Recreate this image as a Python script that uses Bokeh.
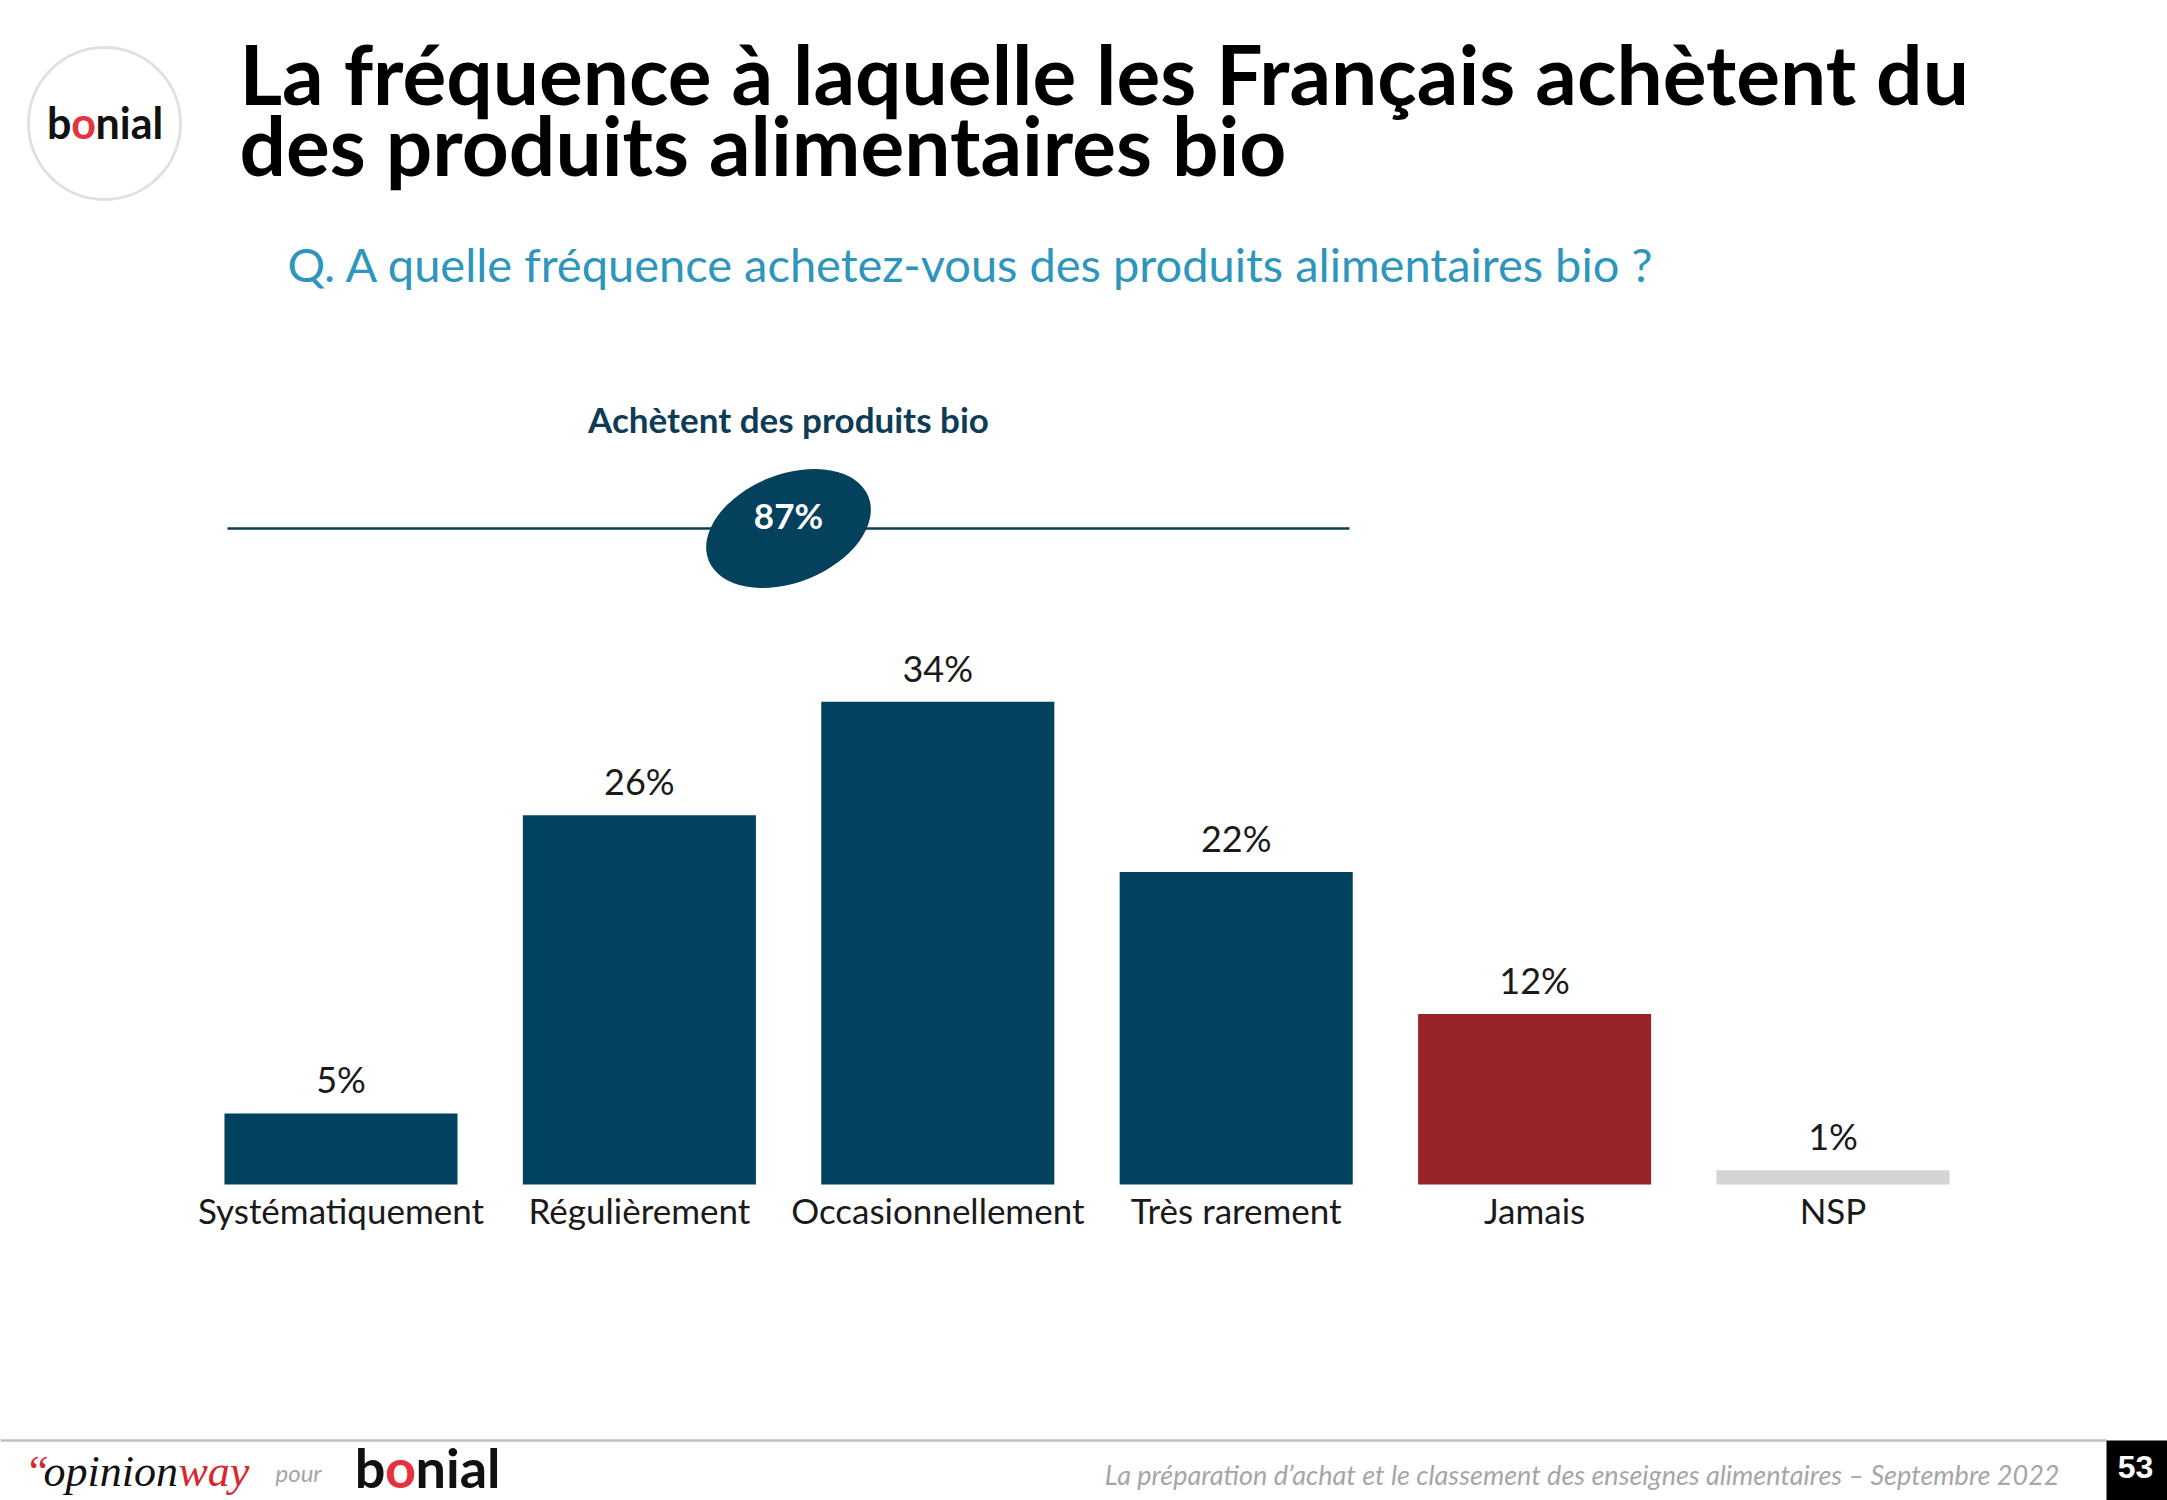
from bokeh.plotting import figure
from bokeh.models import Range1d, ColumnDataSource
from bokeh.core.properties import value
from bokeh.embed import file_html
from bokeh.resources import INLINE

# ---------------- data ----------------
categories = ["Systématiquement", "Régulièrement", "Occasionnellement",
              "Très rarement", "Jamais", "NSP"]
percentages = [5, 26, 34, 22, 12, 1]
value_labels = ["5%", "26%", "34%", "22%", "12%", "1%"]
bar_colors = ["#01425E", "#01425E", "#01425E", "#01425E", "#98232A", "#D4D4D4"]

total_label = "87%"
total_title = "Achètent des produits bio"
title_lines = ["La fréquence à laquelle les Français achètent du",
               "des produits alimentaires bio"]
question = "Q. A quelle fréquence achetez-vous des produits alimentaires bio ?"
footer_text = "La préparation d\u2019achat et le classement des enseignes alimentaires \u2013 Septembre 2022"
page_number = "53"

# ---------------- layout ----------------
W, H = 2167, 1500
slot = 298.4               # pixels per category
first_center = 340.5       # first bar centre in pixels
px_per_pct = 14.2
baseline_from_bottom = H - 1184
BL = 0.42                  # baseline correction (fraction of font size)

x0 = -first_center / slot
x1 = x0 + W / slot
y0 = -baseline_from_bottom / px_per_pct
y1 = y0 + H / px_per_pct

p = figure(width=W, height=H, x_range=Range1d(x0, x1), y_range=Range1d(y0, y1),
           output_backend="svg", toolbar_location=None,
           x_axis_type=None, y_axis_type=None, min_border=0,
           outline_line_color=None, background_fill_color="white")
p.grid.visible = False
p.extra_x_ranges = {"px": Range1d(0, W)}
p.extra_y_ranges = {"px": Range1d(H, 0)}

FONT = "Lato"

def label(x, y, txt, size, color, font=FONT, style="normal",
          align="left"):
    # y is the desired text baseline (in page pixels)
    p.text(x=[x], y=[y - BL * size], text=[txt], x_range_name="px",
           y_range_name="px", text_font=value(font),
           text_font_size=f"{size}px", text_font_style=style,
           text_color=color, text_align=align, text_baseline="alphabetic")

# ---------------- bars ----------------
src = ColumnDataSource(dict(x=list(range(len(categories))), top=percentages,
                            color=bar_colors, lab=value_labels, cat=categories,
                            zero=[0] * len(categories)))
p.vbar(x="x", top="top", bottom=0, width=0.781, fill_color="color",
       line_color=None, source=src)
VS, CS = 36, 35
p.text(x="x", y="top", text="lab", source=src, text_align="center",
       text_baseline="alphabetic", y_offset=-19 - BL * VS, text_font=value(FONT),
       text_font_size=f"{VS}px", text_color="#1A1A1A")
p.text(x="x", y="zero", text="cat", source=src, text_align="center",
       text_baseline="alphabetic", y_offset=40 - BL * CS, text_font=value(FONT),
       text_font_size=f"{CS}px", text_color="#1A1A1A")

# ---------------- total bracket ----------------
label(788, 433, total_title, 35, "#0E3C56", style="bold", align="center")
p.segment(x0=[227], y0=[528], x1=[1349], y1=[528], x_range_name="px",
          y_range_name="px", line_color="#0B3D57", line_width=2.5)
p.ellipse(x=[788], y=[528], width=[172], height=[108], angle=[0.38],
          x_range_name="px", y_range_name="px",
          fill_color="#03415C", line_color=None)
label(788, 529, total_label, 35, "white", style="bold", align="center")

# ---------------- title ----------------
label(239, 107, title_lines[0], 82, "#000000", style="bold")
label(239, 178, title_lines[1], 82, "#000000", style="bold")
label(287, 283, question, 47, "#2E96BC")

# ---------------- logo ----------------
p.ellipse(x=[104], y=[123], width=[152], height=[152], x_range_name="px",
          y_range_name="px", fill_color="white", line_color="#E0E0E0",
          line_width=3)
label(71, 140, "b", 43, "#111111", style="bold", align="right")
label(83, 140, "o", 43, "#E5323B", style="bold", align="center")
label(95, 140, "nial", 43, "#111111", style="bold")

# ---------------- footer ----------------
p.segment(x0=[0], y0=[1440], x1=[2106], y1=[1440], x_range_name="px",
          y_range_name="px", line_color="#BFBFBF", line_width=2.5)
label(24, 1489, "\u201c", 44, "#D9262C", font="Liberation Serif", style="italic")
label(43, 1489, "opinion", 44, "#111111", font="Liberation Serif", style="italic")
label(178, 1489, "way", 44, "#D9262C", font="Liberation Serif", style="italic")
label(275, 1482, "pour", 24, "#A6A6A6", style="italic")
label(385, 1490, "b", 54, "#111111", style="bold", align="right")
label(400, 1490, "o", 54, "#E5323B", style="bold", align="center")
label(415, 1490, "nial", 54, "#111111", style="bold")
label(2059, 1485, footer_text, 27, "#A6A6A6", style="italic", align="right")
p.quad(left=[2106], right=[2167], top=[1440], bottom=[1500], x_range_name="px",
       y_range_name="px", fill_color="#000000", line_color=None)
label(2135, 1480, page_number, 32, "white", font="Liberation Sans",
      style="bold", align="center")

open("out.html", "w").write(file_html(p, INLINE))
